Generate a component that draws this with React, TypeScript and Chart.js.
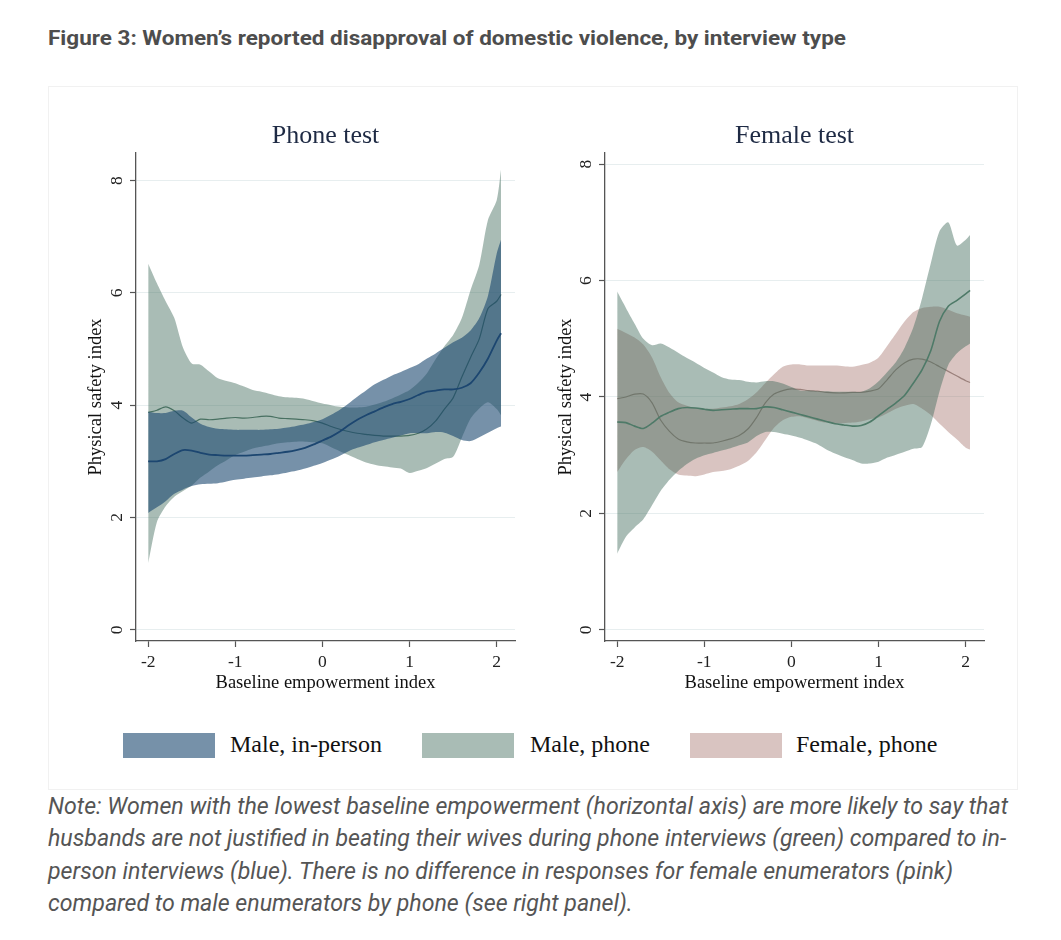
import React, { useEffect, useLayoutEffect, useRef, useState } from 'react';
import { Chart, registerables } from 'chart.js';

Chart.register(...registerables);

// ---------- data ----------
const X = [
  -2.0, -1.9, -1.8, -1.7, -1.6, -1.5, -1.4, -1.3, -1.2, -1.1, -1.0, -0.9, -0.8, -0.7,
  -0.6, -0.5, -0.4, -0.3, -0.2, -0.1, 0.0, 0.1, 0.2, 0.3, 0.4, 0.5, 0.6, 0.7,
  0.8, 0.9, 1.0, 1.1, 1.2, 1.3, 1.4, 1.5, 1.6, 1.7, 1.8, 1.9, 2.0, 2.05,
];
const X_TICKS = [-2, -1, 0, 1, 2];
const Y_TICKS = [0, 2, 4, 6, 8];

// Phone test panel
const PHONE_INPERSON_MEAN = [
  3.0, 3.0, 3.04, 3.13, 3.2, 3.19, 3.15, 3.12, 3.11, 3.1, 3.1, 3.1, 3.11, 3.12,
  3.13, 3.15, 3.17, 3.2, 3.24, 3.3, 3.37, 3.44, 3.53, 3.64, 3.74, 3.82, 3.89, 3.96,
  4.02, 4.06, 4.11, 4.18, 4.24, 4.26, 4.28, 4.28, 4.31, 4.39, 4.58, 4.83, 5.15, 5.28,
];
const PHONE_INPERSON_UPPER = [
  3.88, 3.86, 3.86, 3.9, 3.9, 3.78, 3.67, 3.61, 3.58, 3.57, 3.56, 3.56, 3.56, 3.56,
  3.57, 3.58, 3.6, 3.63, 3.66, 3.7, 3.75, 3.83, 3.92, 4.03, 4.15, 4.26, 4.37, 4.45,
  4.53, 4.59, 4.66, 4.73, 4.83, 4.92, 5.02, 5.12, 5.2, 5.33, 5.55, 5.95, 6.7, 6.95,
];
const PHONE_INPERSON_LOWER = [
  2.08, 2.18, 2.29, 2.42, 2.5, 2.56, 2.59, 2.6, 2.61, 2.64, 2.67, 2.69, 2.71, 2.73,
  2.75, 2.77, 2.8, 2.83, 2.87, 2.92, 2.97, 3.03, 3.1, 3.18, 3.24, 3.29, 3.34, 3.38,
  3.42, 3.46, 3.5, 3.5, 3.5, 3.52, 3.51, 3.45, 3.38, 3.36, 3.43, 3.51, 3.59, 3.62,
];
const PHONE_MALEPHONE_MEAN = [
  3.87, 3.91, 3.97, 3.9, 3.77, 3.68, 3.75, 3.74, 3.75, 3.77, 3.78, 3.77, 3.78, 3.8,
  3.8, 3.77, 3.76, 3.75, 3.74, 3.72, 3.68, 3.62, 3.57, 3.53, 3.5, 3.48, 3.46, 3.45,
  3.45, 3.45, 3.46, 3.5, 3.58, 3.72, 3.93, 4.13, 4.5, 4.85, 5.18, 5.72, 5.85, 5.97,
];
const PHONE_MALEPHONE_UPPER = [
  6.52, 6.17, 5.85, 5.55, 5.02, 4.74, 4.72, 4.6, 4.48, 4.43, 4.39, 4.33, 4.27, 4.24,
  4.2, 4.16, 4.14, 4.13, 4.11, 4.07, 4.03, 4.0, 3.97, 3.96, 3.96, 3.97, 4.01, 4.06,
  4.12, 4.19, 4.27, 4.4, 4.57, 4.82, 5.05, 5.25, 5.55, 6.05, 6.5, 7.3, 7.65, 8.2,
];
const PHONE_MALEPHONE_LOWER = [
  1.19, 1.92, 2.2, 2.37, 2.47, 2.57, 2.71, 2.82, 2.93, 3.02, 3.11, 3.17, 3.23, 3.26,
  3.29, 3.32, 3.34, 3.35, 3.35, 3.34, 3.32, 3.25, 3.18, 3.11, 3.04, 2.98, 2.94, 2.91,
  2.89, 2.87, 2.79, 2.83, 2.88, 2.96, 3.04, 3.08, 3.42, 3.76, 3.94, 4.05, 3.93, 3.82,
];

// Female test panel
const FEMALE_MALEPHONE_MEAN = [
  3.57, 3.56, 3.5, 3.46, 3.55, 3.67, 3.74, 3.8, 3.82, 3.81, 3.79, 3.77, 3.78, 3.79,
  3.8, 3.8, 3.8, 3.83, 3.82, 3.78, 3.74, 3.7, 3.66, 3.62, 3.58, 3.54, 3.52, 3.5,
  3.51, 3.57, 3.68, 3.79, 3.9, 4.03, 4.24, 4.47, 4.8, 5.3, 5.56, 5.66, 5.77, 5.83,
];
const FEMALE_MALEPHONE_UPPER = [
  5.81, 5.53, 5.26, 5.0, 4.89, 4.92, 4.85, 4.76, 4.67, 4.59, 4.5, 4.42, 4.34, 4.3,
  4.29, 4.26, 4.25, 4.27, 4.27, 4.23, 4.17, 4.11, 4.11, 4.1, 4.1, 4.09, 4.09, 4.09,
  4.09, 4.15, 4.27, 4.43, 4.6, 4.85, 5.2, 5.7, 6.3, 6.85, 7.0, 6.6, 6.7, 6.78,
];
const FEMALE_MALEPHONE_LOWER = [
  1.31, 1.6, 1.76, 1.9, 2.14, 2.39, 2.58, 2.73, 2.85, 2.94, 3.0, 3.04, 3.08, 3.12,
  3.17, 3.22, 3.33, 3.4, 3.4, 3.37, 3.34, 3.3, 3.25, 3.19, 3.1, 3.03, 2.97, 2.92,
  2.86, 2.86, 2.89, 2.96, 3.01, 3.06, 3.11, 3.14, 3.53, 4.1, 4.55, 4.75, 4.87, 4.92,
];
const FEMALE_FEMALEPHONE_MEAN = [
  3.97, 4.0, 4.05, 4.05, 3.9, 3.6, 3.41, 3.28, 3.23, 3.21, 3.21, 3.21, 3.24, 3.28,
  3.34, 3.45, 3.65, 3.9, 4.05, 4.11, 4.14, 4.13, 4.11, 4.1, 4.08, 4.07, 4.07, 4.08,
  4.08, 4.1, 4.14, 4.3, 4.47, 4.59, 4.65, 4.65, 4.6, 4.52, 4.44, 4.36, 4.28, 4.25,
];
const FEMALE_FEMALEPHONE_UPPER = [
  5.17, 5.1, 5.02, 4.9, 4.68, 4.34, 4.07, 3.91, 3.85, 3.81, 3.8, 3.8, 3.82, 3.84,
  3.88, 3.96, 4.08, 4.24, 4.39, 4.52, 4.56, 4.56, 4.54, 4.54, 4.54, 4.54, 4.53, 4.52,
  4.55, 4.59, 4.68, 4.88, 5.09, 5.3, 5.46, 5.53, 5.55, 5.55, 5.5, 5.44, 5.4, 5.38,
];
const FEMALE_FEMALEPHONE_LOWER = [
  2.71, 2.93, 3.09, 3.14, 3.06, 2.91, 2.76, 2.67, 2.65, 2.64, 2.67, 2.71, 2.73, 2.76,
  2.82, 2.9, 3.05, 3.26, 3.47, 3.6, 3.66, 3.67, 3.63, 3.59, 3.56, 3.55, 3.55, 3.56,
  3.58, 3.62, 3.65, 3.72, 3.8, 3.85, 3.88, 3.8, 3.69, 3.54, 3.4, 3.27, 3.13, 3.1,
];

const LEGEND_LABELS = ['Male, in-person', 'Male, phone', 'Female, phone'];
const PANEL_TITLES = ['Phone test', 'Female test'];
const X_TITLE = 'Baseline empowerment index';
const Y_TITLE = 'Physical safety index';
const FIG_TITLE = 'Figure 3: Women\u2019s reported disapproval of domestic violence, by interview type';
const NOTE_LINES = [
  'Note: Women with the lowest baseline empowerment (horizontal axis) are more likely to say that',
  'husbands are not justified in beating their wives during phone interviews (green) compared to in-',
  'person interviews (blue). There is no difference in responses for female enumerators (pink)',
  'compared to male enumerators by phone (see right panel).',
];

// ---------- styles ----------
const BLUE_FILL = 'rgba(26,71,111,0.6)';
const GREEN_FILL = 'rgba(64,106,91,0.45)';
const PINK_FILL = 'rgba(160,107,100,0.4)';
const SERIF = '"Liberation Serif", "Times New Roman", serif';

const pts = (ys: number[]) => X.map((x, i) => ({ x, y: ys[i] }));

const rotatedYTicks = {
  id: 'rotatedYTicks',
  afterDraw(chart: any, _args: any, opts: any) {
    const s = chart.scales.y;
    const ctx = chart.ctx;
    ctx.save();
    ctx.font = `${opts.size}px ${SERIF}`;
    ctx.fillStyle = opts.color;
    ctx.textAlign = 'center';
    ctx.textBaseline = 'middle';
    for (const t of s.ticks) {
      const py = s.getPixelForValue(t.value);
      ctx.save();
      ctx.translate(s.right - opts.offset, py);
      ctx.rotate(-Math.PI / 2);
      ctx.fillText(String(t.value), 0, 0);
      ctx.restore();
    }
    ctx.restore();
  },
};

function band(upper: number[], lower: number[], fill: string, order: number) {
  return [
    {
      data: pts(upper),
      borderWidth: 0,
      borderColor: 'rgba(0,0,0,0)',
      backgroundColor: fill,
      pointRadius: 0,
      fill: '+1',
      order,
      tension: 0.25,
    },
    {
      data: pts(lower),
      borderWidth: 0,
      borderColor: 'rgba(0,0,0,0)',
      backgroundColor: fill,
      pointRadius: 0,
      fill: false,
      order,
      tension: 0.25,
    },
  ];
}

function meanLine(ys: number[], color: string, width: number, order: number) {
  return {
    data: pts(ys),
    borderColor: color,
    borderWidth: width,
    pointRadius: 0,
    fill: false,
    order,
    tension: 0.25,
  };
}

interface PanelProps {
  left: number;
  top: number;
  width: number;
  height: number;
  title: string;
  datasets: any[];
  yMin: number;
  yMax: number;
  axisWidth: number;
  padRight: number;
}

function Panel(p: PanelProps) {
  const ref = useRef<HTMLCanvasElement | null>(null);
  useEffect(() => {
    if (!ref.current) return;
    const chart = new Chart(ref.current, {
      type: 'line',
      data: { datasets: p.datasets },
      plugins: [rotatedYTicks as any],
      options: {
        animation: false,
        responsive: false,
        events: [],
        layout: { padding: { left: 0, right: p.padRight, top: 0, bottom: 0 } },
        plugins: {
          legend: { display: false },
          tooltip: { enabled: false },
          title: {
            display: true,
            text: p.title,
            fullSize: false,
            color: '#1e2a44',
            font: { family: SERIF, size: 26, weight: 'normal' as any, lineHeight: 1.2 },
            padding: { top: 20.4, bottom: 1.4 },
          },
          rotatedYTicks: { size: 17.5, color: '#222', offset: 19 },
        } as any,
        scales: {
          x: {
            type: 'linear',
            min: -2.14,
            max: 2.21,
            afterBuildTicks: (s: any) => {
              s.ticks = X_TICKS.map((v) => ({ value: v }));
            },
            afterFit: (s: any) => {
              s.height = 59;
            },
            grid: {
              display: true,
              drawOnChartArea: false,
              drawTicks: true,
              tickLength: 6,
              tickColor: '#555',
              tickWidth: 1.2,
            },
            border: { display: true, color: '#555', width: 1.3 },
            ticks: {
              color: '#222',
              font: { family: SERIF, size: 17.5 },
              padding: 5,
              maxRotation: 0,
              callback: (v: any) => String(v),
            },
            title: {
              display: true,
              text: X_TITLE,
              color: '#111',
              font: { family: SERIF, size: 18.5 },
              padding: { top: 0, bottom: 5.9 },
            },
          },
          y: {
            type: 'linear',
            min: p.yMin,
            max: p.yMax,
            afterBuildTicks: (s: any) => {
              s.ticks = Y_TICKS.map((v) => ({ value: v }));
            },
            afterFit: (s: any) => {
              s.width = p.axisWidth;
            },
            grid: {
              display: true,
              drawOnChartArea: true,
              drawTicks: true,
              tickLength: 6,
              color: '#e7eeef',
              tickColor: '#555',
              lineWidth: 1,
              tickWidth: 1.2,
            },
            border: { display: true, color: '#555', width: 1.3 },
            ticks: { display: false },
            title: {
              display: true,
              text: Y_TITLE,
              color: '#111',
              font: { family: SERIF, size: 18.5 },
              padding: { top: 29.5, bottom: 0 },
            },
          },
        },
      } as any,
    });
    return () => chart.destroy();
  }, []);
  return (
    <canvas
      ref={ref}
      width={p.width}
      height={p.height}
      style={{ position: 'absolute', left: p.left, top: p.top, width: p.width, height: p.height }}
    />
  );
}

export default function App() {
  const leftDatasets = [
    meanLine(PHONE_INPERSON_MEAN, '#1c4670', 1.8, 0),
    ...band(PHONE_INPERSON_UPPER, PHONE_INPERSON_LOWER, BLUE_FILL, 1),
    meanLine(PHONE_MALEPHONE_MEAN, 'rgb(72,112,97)', 1.2, 2),
    ...band(PHONE_MALEPHONE_UPPER, PHONE_MALEPHONE_LOWER, GREEN_FILL, 3),
  ];
  const rightDatasets = [
    meanLine(FEMALE_MALEPHONE_MEAN, '#4e7a68', 1.6, 0),
    ...band(FEMALE_MALEPHONE_UPPER, FEMALE_MALEPHONE_LOWER, GREEN_FILL, 1),
    meanLine(FEMALE_FEMALEPHONE_MEAN, '#9a807b', 1.2, 2),
    ...band(FEMALE_FEMALEPHONE_UPPER, FEMALE_FEMALEPHONE_LOWER, PINK_FILL, 3),
  ];

  const noteRef = useRef<HTMLSpanElement | null>(null);
  const titleRef = useRef<HTMLSpanElement | null>(null);
  const [noteScale, setNoteScale] = useState(1);
  const [titleScale, setTitleScale] = useState(1);
  useLayoutEffect(() => {
    if (noteRef.current) {
      const w = noteRef.current.getBoundingClientRect().width;
      if (w > 0) setNoteScale(960 / w);
    }
    if (titleRef.current) {
      const w = titleRef.current.getBoundingClientRect().width;
      if (w > 0) setTitleScale(798 / w);
    }
  }, []);

  const legendFills = [BLUE_FILL, GREEN_FILL, PINK_FILL];
  const legendBoxX = [123, 422, 690];
  const legendTextX = [230, 530, 796];
  const noteTops = [792, 824, 857, 889];

  return (
    <div style={{ position: 'absolute', left: 0, top: 0, width: 1061, height: 940, background: '#fff' }}>
      <div
        style={{
          position: 'absolute',
          left: 48,
          top: 25,
          font: 'bold 21px Roboto, sans-serif',
          lineHeight: '26px',
          color: '#4d4d4d',
          whiteSpace: 'nowrap',
          transform: `scaleX(${titleScale})`,
          transformOrigin: 'left center',
        }}
      >
        <span ref={titleRef}>{FIG_TITLE}</span>
      </div>
      <div
        style={{
          position: 'absolute',
          left: 48,
          top: 86,
          width: 970,
          height: 704,
          border: '1px solid #f1f1f1',
          boxSizing: 'border-box',
          background: '#fff',
        }}
      />
      <Panel
        left={56}
        top={100}
        width={474}
        height={600}
        title={PANEL_TITLES[0]}
        datasets={leftDatasets}
        yMin={-0.2}
        yMax={8.49}
        axisWidth={80}
        padRight={15}
      />
      <Panel
        left={526}
        top={100}
        width={474}
        height={600}
        title={PANEL_TITLES[1]}
        datasets={rightDatasets}
        yMin={-0.19}
        yMax={8.19}
        axisWidth={79}
        padRight={16}
      />
      {LEGEND_LABELS.map((lab, i) => (
        <React.Fragment key={lab}>
          <div
            style={{
              position: 'absolute',
              left: legendBoxX[i],
              top: 733,
              width: 92,
              height: 25,
              background: legendFills[i],
            }}
          />
          <div
            style={{
              position: 'absolute',
              left: legendTextX[i],
              top: 731,
              height: 30,
              lineHeight: '30px',
              font: `24px ${SERIF}`,
              color: '#111',
              whiteSpace: 'nowrap',
            }}
          >
            {lab}
          </div>
        </React.Fragment>
      ))}
      {NOTE_LINES.map((line, i) => (
        <div
          key={i}
          style={{
            position: 'absolute',
            left: 48,
            top: noteTops[i],
            lineHeight: '32px',
            font: 'italic 23.5px Roboto, sans-serif',
            color: '#555',
            whiteSpace: 'nowrap',
            transform: `scaleX(${noteScale})`,
            transformOrigin: 'left center',
          }}
        >
          <span ref={i === 0 ? noteRef : undefined}>{line}</span>
        </div>
      ))}
    </div>
  );
}
